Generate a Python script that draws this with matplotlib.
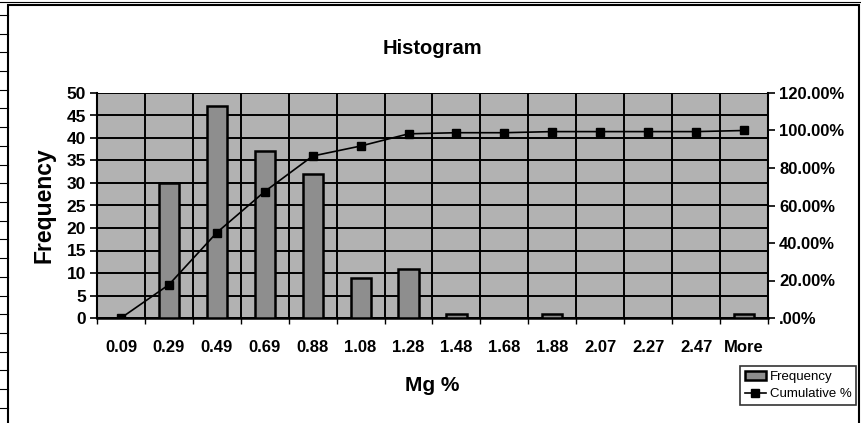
import matplotlib.pyplot as plt
from matplotlib.lines import Line2D
from matplotlib.patches import Rectangle
import numpy as np

plt.rcParams['font.family'] = ['Liberation Sans', 'DejaVu Sans']
plt.rcParams['font.weight'] = 'bold'

# bins of Mg % and their counts
bins = ['0.09', '0.29', '0.49', '0.69', '0.88', '1.08', '1.28', '1.48',
        '1.68', '1.88', '2.07', '2.27', '2.47', 'More']
frequency = [0, 30, 47, 37, 32, 9, 11, 1, 0, 1, 0, 0, 0, 1]
cumulative = [0.0, 17.75, 45.56, 67.46, 86.39, 91.72, 98.22, 98.82,
              98.82, 99.41, 99.41, 99.41, 99.41, 100.0]
pct_ticks = [0, 20, 40, 60, 80, 100, 120]
pct_labels = ['.00%', '20.00%', '40.00%', '60.00%', '80.00%', '100.00%', '120.00%']

fig = plt.figure(figsize=(8.62, 4.23), dpi=100)
fig.patch.set_facecolor('white')

# chart border and spreadsheet cell lines behind it
fig.add_artist(Rectangle((8 / 862, -0.01), 851 / 862, 1 - 5 / 423 + 0.01,
                         transform=fig.transFigure, fill=False,
                         edgecolor='black', linewidth=1.5))
for yy in np.arange(15, 423, 18.7):
    fig.add_artist(Line2D([0, 8 / 862], [1 - yy / 423] * 2,
                          transform=fig.transFigure, color='black', lw=0.8))
fig.add_artist(Line2D([0, 1], [1 - 2 / 423] * 2, transform=fig.transFigure,
                      color='black', lw=0.8))

ax = fig.add_axes([97 / 862, 1 - 318 / 423, (768 - 97) / 862, (318 - 93) / 423])
ax.set_facecolor('#b2b2b2')

x = np.arange(len(bins))
ax.bar(x, frequency, width=0.42, color='#8e8e8e', edgecolor='black',
       linewidth=1.8, zorder=3, label='Frequency')

ax.set_xlim(-0.5, len(bins) - 0.5)
ax.set_ylim(0, 50)
ax.set_yticks(np.arange(0, 51, 5))
ax.set_xticks(x)
ax.set_xticklabels(bins)
ax.set_xticks(np.arange(-0.5, len(bins), 1), minor=True)
ax.tick_params(axis='x', which='major', length=0, pad=16, labelsize=12)
ax.tick_params(axis='x', which='minor', length=4, direction='out', width=1)
ax.tick_params(axis='y', length=5, width=1.2, labelsize=12.5, pad=3)
ax.grid(True, which='minor', axis='x', color='black', linewidth=1.4, zorder=1)
ax.grid(True, which='major', axis='y', color='black', linewidth=1.4, zorder=1)
ax.set_axisbelow(True)
for s in ['top', 'right']:
    ax.spines[s].set_visible(False)
ax.spines['left'].set_linewidth(1.5)
ax.spines['bottom'].set_linewidth(1.8)

ax.set_title('Histogram', fontsize=14.5, fontweight='bold', pad=28)
ax.set_xlabel('Mg %', fontsize=15, fontweight='bold', labelpad=15)
ax.set_ylabel('Frequency', fontsize=16.5, fontweight='bold', labelpad=8)

ax2 = ax.twinx()
ax2.plot(x, cumulative, color='black', linewidth=1.2, marker='s',
         markersize=6, zorder=4, label='Cumulative %')
ax2.set_ylim(0, 120)
ax2.set_yticks(pct_ticks)
ax2.set_yticklabels(pct_labels)
ax2.tick_params(axis='y', length=5, width=1.2, labelsize=12, pad=3)
for s in ['top', 'left', 'bottom']:
    ax2.spines[s].set_visible(False)
ax2.spines['right'].set_linewidth(1.5)

h1, l1 = ax.get_legend_handles_labels()
h2, l2 = ax2.get_legend_handles_labels()
leg = fig.legend(h1 + h2, l1 + l2, loc='upper right',
                 bbox_to_anchor=(856 / 862, 1 - 366 / 423),
                 prop={'size': 9.5, 'weight': 'normal'},
                 frameon=True, fancybox=False,
                 borderpad=0.35, handlelength=1.6, handletextpad=0.3,
                 labelspacing=0.4, borderaxespad=0)
leg.get_frame().set_edgecolor('black')
leg.get_frame().set_linewidth(1.2)

plt.savefig('out.png', dpi=100)
plt.close()
